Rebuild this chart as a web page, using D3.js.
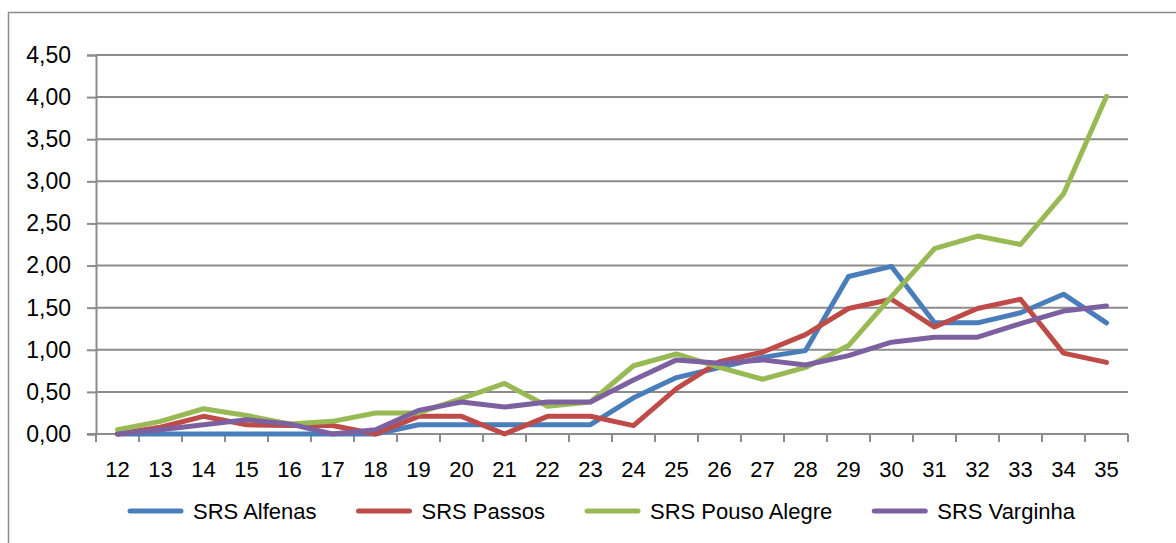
<!DOCTYPE html>
<html>
<head>
<meta charset="utf-8">
<script src="https://cdn.jsdelivr.net/npm/d3@7"></script>
<style>
  body { margin: 0; background: #fff; }
  svg { display: block; font-family: "Liberation Sans", Arial, sans-serif; }
</style>
</head>
<body>
<div class="line-chart"></div>
<script>
// data
var weeks = [12, 13, 14, 15, 16, 17, 18, 19, 20, 21, 22, 23, 24, 25, 26, 27, 28, 29, 30, 31, 32, 33, 34, 35];
var alfenas = [0, 0, 0, 0, 0, 0, 0, 0.11, 0.11, 0.11, 0.11, 0.11, 0.43, 0.67, 0.79, 0.91, 0.99, 1.87, 1.99, 1.32, 1.32, 1.44, 1.66, 1.32];
var passos = [0, 0.08, 0.21, 0.11, 0.10, 0.10, 0, 0.21, 0.21, 0, 0.21, 0.21, 0.10, 0.54, 0.86, 0.97, 1.18, 1.49, 1.60, 1.27, 1.49, 1.60, 0.96, 0.85];
var pousoAlegre = [0.05, 0.15, 0.30, 0.22, 0.12, 0.15, 0.25, 0.25, 0.42, 0.60, 0.33, 0.38, 0.81, 0.95, 0.79, 0.65, 0.79, 1.05, 1.63, 2.20, 2.35, 2.25, 2.85, 4.01];
var varginha = [0, 0.05, 0.11, 0.17, 0.12, 0, 0.05, 0.28, 0.38, 0.32, 0.38, 0.38, 0.64, 0.88, 0.84, 0.88, 0.82, 0.93, 1.09, 1.15, 1.15, 1.31, 1.46, 1.52];
var seriesNames = ["SRS Alfenas", "SRS Passos", "SRS Pouso Alegre", "SRS Varginha"];
var yTicks = [0, 0.5, 1, 1.5, 2, 2.5, 3, 3.5, 4, 4.5];

var series = [alfenas, passos, pousoAlegre, varginha];
var colors = ["#4a7ebb", "#be4b48", "#98b954", "#7d60a0"];

var width = 1176, height = 543;
var margin = {top: 55, right: 48, bottom: 109, left: 96};

var svg = d3.select('.line-chart')
    .append('svg')
        .attr('width', width)
        .attr('height', height);

// outer chart border (only top and left show in the crop)
svg.append("rect")
    .attr("x", 8.5).attr("y", 12.5)
    .attr("width", width + 20).attr("height", height + 20)
    .attr("fill", "none")
    .attr("stroke", "#8c8c8c")
    .attr("stroke-width", 1.5);

var x = d3.scaleBand()
    .domain(weeks)
    .range([margin.left, width - margin.right])
    .padding(0);

var y = d3.scaleLinear()
    .domain([0, 4.5])
    .range([height - margin.bottom, margin.top]);

var fmt = function(d) { return d3.format(".2f")(d).replace(".", ","); };

// gridlines
svg.append("g")
    .selectAll("line")
    .data(yTicks.slice(1))
    .enter()
    .append("line")
        .attr("x1", margin.left).attr("x2", width - margin.right)
        .attr("y1", function(d) { return y(d); })
        .attr("y2", function(d) { return y(d); })
        .attr("stroke", "#8c8c8c")
        .attr("stroke-width", 2);

// y axis
var yAxis = svg.append("g")
    .attr("transform", "translate(" + margin.left + ",0)")
    .call(d3.axisLeft(y).tickValues(yTicks).tickFormat(fmt).tickSize(9).tickPadding(16));
yAxis.select(".domain").attr("stroke", "#8c8c8c").attr("stroke-width", 2);
yAxis.selectAll(".tick line").attr("stroke", "#8c8c8c").attr("stroke-width", 2);
yAxis.selectAll("text").attr("font-size", 23).attr("fill", "#000").attr("font-family", "Liberation Sans");

// x axis: ticks on category boundaries
var xAxisG = svg.append("g")
    .attr("transform", "translate(0," + y(0) + ")");
xAxisG.append("line")
    .attr("x1", margin.left - 9).attr("x2", width - margin.right)
    .attr("stroke", "#8c8c8c").attr("stroke-width", 2);
xAxisG.selectAll(".bound")
    .data(weeks.concat([null]))
    .enter()
    .append("line")
        .attr("class", "bound")
        .attr("x1", function(d, i) { return margin.left + i * x.bandwidth(); })
        .attr("x2", function(d, i) { return margin.left + i * x.bandwidth(); })
        .attr("y1", 0).attr("y2", 8)
        .attr("stroke", "#8c8c8c").attr("stroke-width", 2);
xAxisG.selectAll(".lbl")
    .data(weeks)
    .enter()
    .append("text")
        .attr("class", "lbl")
        .attr("x", function(d) { return x(d) + x.bandwidth() / 2; })
        .attr("y", 43)
        .attr("text-anchor", "middle")
        .attr("font-size", 22)
        .text(function(d) { return d; });

// lines
var line = d3.line()
    .x(function(d, i) { return x(weeks[i]) + x.bandwidth() / 2; })
    .y(function(d) { return y(d); });

svg.append("g")
    .selectAll("path")
    .data(series)
    .enter()
    .append("path")
        .attr("d", line)
        .attr("fill", "none")
        .attr("stroke", function(d, i) { return colors[i]; })
        .attr("stroke-width", 5)
        .attr("stroke-linejoin", "round")
        .attr("stroke-linecap", "round");

// legend
var legend = svg.append("g").attr("transform", "translate(0,511)");
var lx = 130;
seriesNames.forEach(function(name, i) {
    legend.append("line")
        .attr("x1", lx).attr("x2", lx + 51)
        .attr("stroke", colors[i]).attr("stroke-width", 5)
        .attr("stroke-linecap", "round");
    var t = legend.append("text")
        .attr("x", lx + 63).attr("y", 8)
        .attr("font-size", 22)
        .text(name);
    lx += 63 + t.node().getComputedTextLength() + 42;
});
</script>
</body>
</html>
